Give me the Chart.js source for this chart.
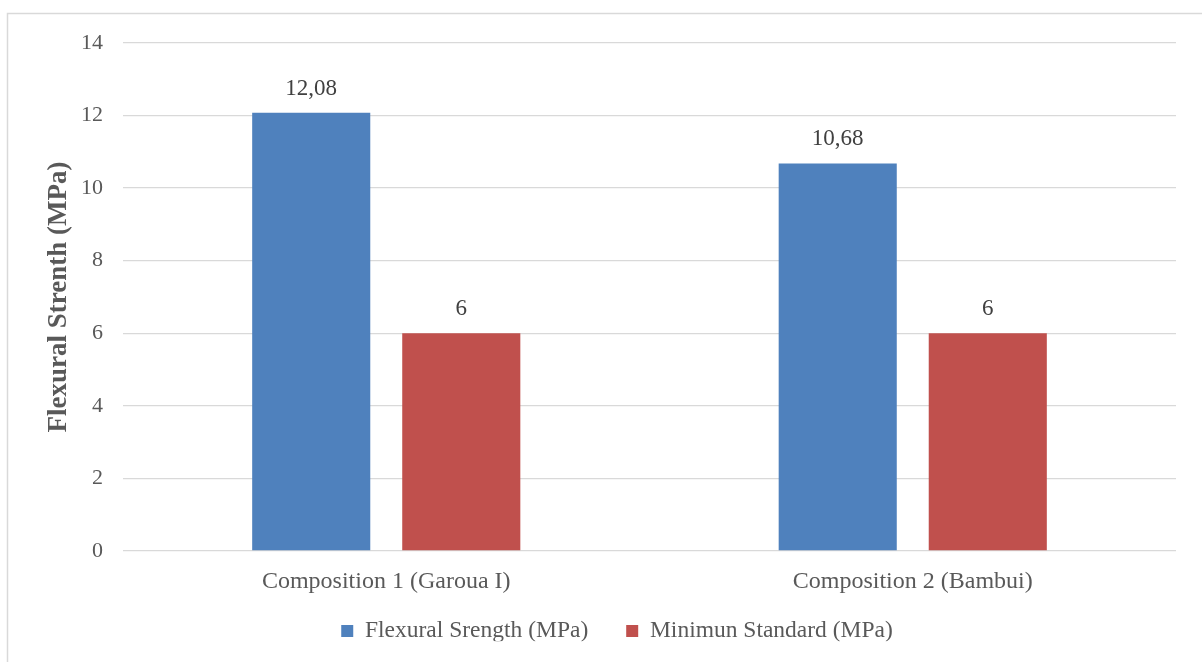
<!DOCTYPE html>
<html>
<head>
<meta charset="utf-8">
<script src="https://cdn.jsdelivr.net/npm/chart.js@4/dist/chart.umd.min.js"></script>
<style>
  html, body { margin: 0; padding: 0; background: #ffffff; }
  #wrap { width: 1202px; height: 662px; position: relative; }
</style>
</head>
<body>
<div id="wrap"><canvas id="chart" width="1202" height="662"></canvas></div>
<script>
// Chart data
const categories = ['Composition 1 (Garoua I)', 'Composition 2 (Bambui)'];
const flexuralStrength = [12.08, 10.68];
const minimumStandard = [6, 6];
const seriesNames = ['Flexural Srength (MPa)', 'Minimun Standard (MPa)'];
const yTicks = [0, 2, 4, 6, 8, 10, 12, 14];

const SERIF = '"Liberation Serif", "Times New Roman", serif';
const LEGEND_TEXT_Y = 631;   // vertical centre of the legend row

// Light frame around the whole figure
const framePlugin = {
  id: 'frame',
  beforeDraw(chart) {
    const ctx = chart.ctx;
    ctx.save();
    ctx.strokeStyle = '#d9d9d9';
    ctx.lineWidth = 1.5;
    ctx.strokeRect(7.5, 13.5, 1400, 800);
    ctx.restore();
  }
};

// Place the legend row just under the category labels
const legendPlacement = {
  id: 'legendPlacement',
  afterLayout(chart) {
    const lg = chart.legend;
    if (!lg) return;
    const pad = lg.options.labels.padding;
    const size = lg.options.labels.font.size;
    const h = lg.height;
    lg.top = LEGEND_TEXT_Y - pad - size / 2;
    lg.bottom = lg.top + h;
  }
};

// Value labels above each bar, written with a decimal comma
const valueLabels = {
  id: 'valueLabels',
  afterDatasetsDraw(chart) {
    const ctx = chart.ctx;
    ctx.save();
    ctx.font = '23px ' + SERIF;
    ctx.fillStyle = '#404040';
    ctx.textAlign = 'center';
    ctx.textBaseline = 'alphabetic';
    chart.data.datasets.forEach((ds, di) => {
      const meta = chart.getDatasetMeta(di);
      meta.data.forEach((bar, i) => {
        const txt = String(ds.data[i]).replace('.', ',');
        ctx.fillText(txt, bar.x, bar.y - 18);
      });
    });
    ctx.restore();
  }
};

new Chart(document.getElementById('chart'), {
  type: 'bar',
  data: {
    labels: categories,
    datasets: [
      {
        label: seriesNames[0],
        data: flexuralStrength,
        backgroundColor: '#4f81bd',
        categoryPercentage: 0.57,
        barPercentage: 0.787
      },
      {
        label: seriesNames[1],
        data: minimumStandard,
        backgroundColor: '#c0504d',
        categoryPercentage: 0.57,
        barPercentage: 0.787
      }
    ]
  },
  options: {
    responsive: false,
    animation: false,
    events: [],
    layout: { padding: { top: 43, left: 58, right: 26, bottom: 0 } },
    plugins: {
      tooltip: { enabled: false },
      legend: {
        position: 'bottom',
        maxHeight: 60,
        labels: {
          boxWidth: 12,
          boxHeight: 12,
          padding: 38,
          color: '#595959',
          font: { family: SERIF, size: 23.5 }
        }
      }
    },
    scales: {
      x: {
        grid: { display: false, drawTicks: false },
        border: { display: false },
        ticks: {
          color: '#595959',
          padding: 16,
          font: { family: SERIF, size: 24 }
        },
        afterFit(scale) { scale.height = 51; }
      },
      y: {
        min: 0,
        max: 14,
        afterBuildTicks(scale) { scale.ticks = yTicks.map(v => ({ value: v })); },
        grid: { color: '#d9d9d9', lineWidth: 1.3, drawTicks: false },
        border: { display: false },
        ticks: {
          color: '#595959',
          padding: 20,
          font: { family: SERIF, size: 22 }
        },
        title: {
          display: true,
          text: 'Flexural Strenth (MPa)',
          color: '#595959',
          padding: { top: -12, bottom: 0 },
          font: { family: SERIF, size: 27, weight: 'bold', lineHeight: 1 }
        },
        afterFit(scale) { scale.width = 65; }
      }
    }
  },
  plugins: [framePlugin, legendPlacement, valueLabels]
});
</script>
</body>
</html>
